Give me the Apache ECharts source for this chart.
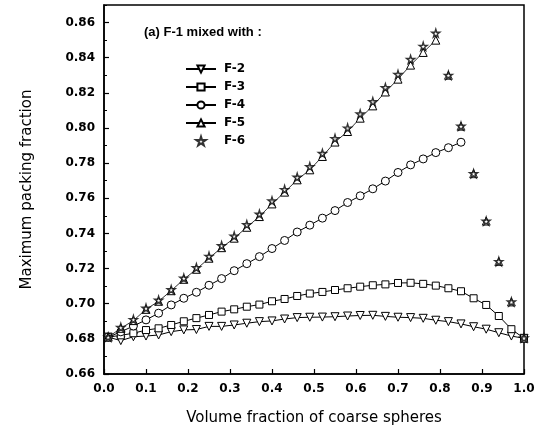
<!DOCTYPE html>
<html>
<head>
<meta charset="utf-8">
<script src="https://cdn.jsdelivr.net/npm/echarts@6/dist/echarts.min.js"></script>
<style>html,body{margin:0;padding:0;background:#fff}#c{width:540px;height:432px}</style>
</head>
<body>
<div id="c"></div>
<script>
var xs = [0.01,0.04,0.07,0.10,0.13,0.16,0.19,0.22,0.25,0.28,0.31,0.34,0.37,0.40,0.43,0.46,0.49,0.52,0.55,0.58,0.61,0.64,0.67,0.70,0.73,0.76,0.79,0.82,0.85,0.88,0.91,0.94,0.97,1.00];
var f2 = [0.681,0.679,0.6812,0.6816,0.6822,0.6841,0.6851,0.6853,0.6871,0.6871,0.6879,0.6889,0.6898,0.6902,0.6913,0.6921,0.6923,0.6924,0.6926,0.693,0.6933,0.6934,0.6928,0.6923,0.6921,0.6917,0.6906,0.6898,0.6885,0.6869,0.6855,0.6835,0.6816,0.6803];
var f3 = [0.681,0.682,0.6832,0.685,0.686,0.6879,0.6900,0.6918,0.6936,0.6955,0.6968,0.6983,0.6995,0.7014,0.7027,0.7044,0.7058,0.7067,0.7078,0.7088,0.7097,0.7105,0.7110,0.7118,0.7119,0.7113,0.7103,0.7088,0.7071,0.7031,0.6993,0.693,0.6855,0.6803];
var f4 = [0.681,0.684,0.6873,0.6908,0.6946,0.6993,0.7031,0.7065,0.7105,0.7143,0.7188,0.7228,0.7268,0.7314,0.7360,0.7408,0.7447,0.7487,0.7530,0.7576,0.7614,0.7654,0.7698,0.7747,0.7790,0.7824,0.7860,0.7888,0.7919];
var f5 = [0.681,0.686,0.6904,0.6968,0.7014,0.7074,0.7139,0.7196,0.7259,0.7319,0.7373,0.7435,0.7496,0.7568,0.7635,0.7705,0.7762,0.7838,0.7920,0.7980,0.8056,0.8126,0.8205,0.8278,0.8358,0.8430,0.8500,0.830,0.801,0.774,0.747,0.724,0.701,0.6803];
var f6 = [0.681,0.6865,0.691,0.6975,0.702,0.708,0.7145,0.7205,0.727,0.733,0.7385,0.745,0.751,0.7585,0.765,0.772,0.778,0.7855,0.794,0.800,0.808,0.815,0.823,0.8305,0.839,0.8465,0.854,0.830,0.801,0.774,0.747,0.724,0.701,0.6805];
var f5PeakIndex = 26;
var xTicks = [0,0.1,0.2,0.3,0.4,0.5,0.6,0.7,0.8,0.9,1.0];
var yTicks = [0.66,0.68,0.70,0.72,0.74,0.76,0.78,0.80,0.82,0.84,0.86];

function pairs(arr, from, to){
  var out = [];
  for (var i = from; i <= to; i++) out.push([xs[i], arr[i]]);
  return out;
}
var starPath = 'path://M50,0 L61,35 L98,35 L68,57 L79,91 L50,70 L21,91 L32,57 L2,35 L39,35 Z';
var black = '#000';
var tickFont = {fontFamily:'DejaVu Sans', fontWeight:'bold', fontSize:12, color:black};
var hollow = {color:'#fff', borderColor:black, borderWidth:1};

var chart = echarts.init(document.getElementById('c'));
chart.setOption({
  animation:false,
  backgroundColor:'#fff',
  title:{text:'(a) F-1 mixed with :', left:144, top:26, padding:0,
    textStyle:{fontFamily:'Liberation Sans', fontWeight:'bold', fontSize:13, color:black}},
  legend:{orient:'vertical', left:185, top:63, padding:0, itemGap:6, itemWidth:30, itemHeight:9,
    data:['F-2','F-3','F-4','F-5','F-6'],
    textStyle:{fontFamily:'DejaVu Sans', fontWeight:'bold', fontSize:12, lineHeight:12, color:black, padding:[0,0,0,3]}},
  grid:{left:104, right:16, top:5, bottom:58, show:true, borderColor:black, borderWidth:1.5, backgroundColor:'transparent'},
  xAxis:{type:'value', min:xTicks[0], max:xTicks[xTicks.length-1], interval:0.1,
    name:'Volume fraction of coarse spheres', nameLocation:'middle', nameGap:37,
    nameTextStyle:{fontFamily:'DejaVu Sans', fontSize:15, color:black},
    axisLine:{show:true, lineStyle:{color:black, width:1.5}},
    axisTick:{show:true, inside:true, length:5, lineStyle:{color:black, width:1.2}},
    axisLabel:Object.assign({margin:9, formatter:function(v){return v.toFixed(1);}}, tickFont),
    splitLine:{show:false}},
  yAxis:[
    {type:'value', min:yTicks[0], max:0.87, interval:0.02,
     name:'Maximum packing fraction', nameLocation:'middle', nameGap:69,
     nameTextStyle:{fontFamily:'DejaVu Sans', fontSize:15, color:black},
     axisLine:{show:true, lineStyle:{color:black, width:1.5}},
     axisTick:{show:true, inside:true, length:5, lineStyle:{color:black, width:1.2}},
     axisLabel:Object.assign({margin:9, showMaxLabel:false, formatter:function(v){return yTicks.indexOf(Math.round(v*100)/100)>=0 ? v.toFixed(2) : '';}}, tickFont),
     splitLine:{show:false}},
    {type:'value', min:yTicks[0], max:0.87, interval:0.01, position:'left',
     axisLine:{show:false}, axisLabel:{show:false}, splitLine:{show:false},
     axisTick:{show:true, inside:true, length:3, lineStyle:{color:black, width:1}}}
  ],
  series:[
    {name:'F-2', type:'line', data:pairs(f2,0,f2.length-1), symbol:'triangle', symbolRotate:180, symbolSize:8,
     lineStyle:{color:black, width:1}, itemStyle:hollow, z:3},
    {name:'F-3', type:'line', data:pairs(f3,0,f3.length-1), symbol:'rect', symbolSize:7,
     lineStyle:{color:black, width:1}, itemStyle:hollow, z:3},
    {name:'F-4', type:'line', data:pairs(f4,0,f4.length-1), symbol:'circle', symbolSize:8,
     lineStyle:{color:black, width:1}, itemStyle:hollow, z:3},
    {name:'F-5', type:'line', data:pairs(f5,0,f5PeakIndex), symbol:'triangle', symbolSize:8,
     lineStyle:{color:black, width:0.8}, itemStyle:hollow, z:4},
    {name:'F-5 tail', type:'scatter', data:pairs(f5,f5PeakIndex+1,f5.length-1), symbol:'triangle', symbolSize:8,
     itemStyle:hollow, z:4},
    {name:'F-6', type:'scatter', data:pairs(f6,0,f6.length-1), symbol:starPath, symbolSize:8,
     itemStyle:{color:'#fff', borderColor:black, borderWidth:1.4}, z:5}
  ]
});
</script>
</body>
</html>
